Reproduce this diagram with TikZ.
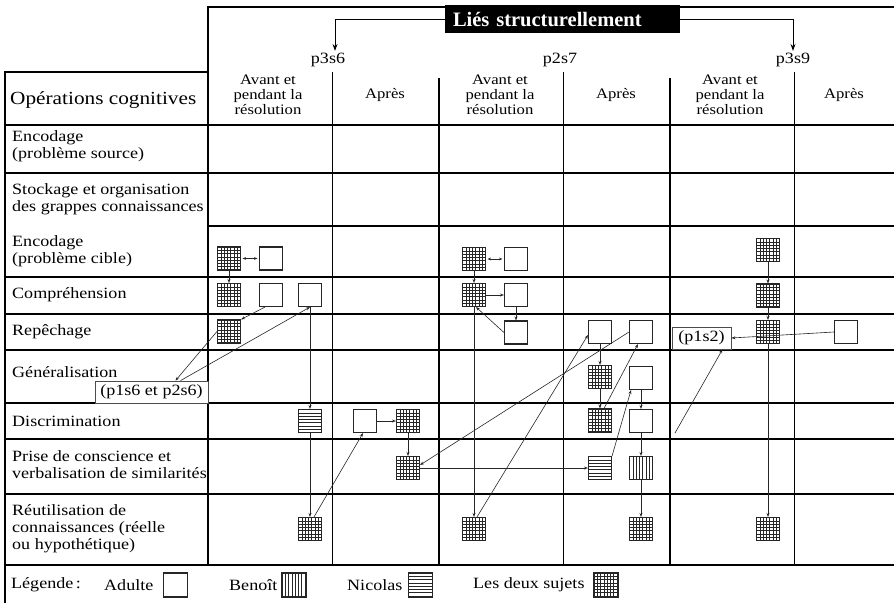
\documentclass[tikz,border=0pt]{standalone}
\usepackage{fontspec}
\setmainfont{Liberation Serif}[FakeStretch=1.15]
\newfontfamily\ttlfont{Liberation Serif}
\usetikzlibrary{arrows.meta}

\tikzset{
  sq/.style={draw=black!85, line width=1.1pt, minimum size=23pt, inner sep=0pt, fill=white},
  adult/.style={sq},
  gridsq/.style={sq, path picture={\foreach \k in {1,...,6}{
      \draw[line width=.55pt] ([xshift=\k*3.2857pt]path picture bounding box.north west) -- ([xshift=\k*3.2857pt]path picture bounding box.south west);
      \draw[line width=.55pt] ([yshift=-\k*3.2857pt]path picture bounding box.north west) -- ([yshift=-\k*3.2857pt]path picture bounding box.north east);}}},
  hstr/.style={sq, path picture={\foreach \k in {1,...,6}{
      \draw[line width=.5pt] ([yshift=-\k*3.2857pt]path picture bounding box.north west) -- ([yshift=-\k*3.2857pt]path picture bounding box.north east);}}},
  vstr/.style={sq, path picture={\foreach \k in {1,...,6}{
      \draw[line width=.5pt] ([xshift=\k*3.2857pt]path picture bounding box.north west) -- ([xshift=\k*3.2857pt]path picture bounding box.south west);}}},
  body/.style={font=\fontsize{15.7}{17}\selectfont},
  lab/.style={body, anchor=west, inner sep=0pt, align=left},
  hd/.style={font=\fontsize{14.5}{15}\selectfont, inner sep=0pt, align=center},
  pbox/.style={body, draw=black!70, line width=.8pt, inner sep=0pt, fill=white},
  conn/.style={line width=.6pt, draw=black!85, -{Stealth[length=4pt,width=3pt]}},
  dbl/.style={line width=.6pt, draw=black!85, {Stealth[length=3.5pt,width=2.8pt]}-{Stealth[length=3.5pt,width=2.8pt]}, shorten <=1.5pt, shorten >=1.5pt},
  tarrow/.style={line width=1pt, -{Stealth[length=7pt,width=5pt]}},
  frame/.style={line width=2.4pt},
  mainline/.style={line width=1.4pt},
  subline/.style={line width=1pt}
}

\begin{document}
\begin{tikzpicture}[x=1pt,y=-1pt]
\useasboundingbox (0,0) rectangle (894,603);

% frame
\draw[frame] (5,603) -- (5,72) -- (208,72) -- (208,7) -- (894,7);

% horizontal lines
\foreach \yy in {125,173,277,314,350,403,439,494,565}
  \draw[mainline] (5,\yy) -- (894,\yy);
\draw[mainline] (208,226) -- (894,226);

% vertical lines
\draw[mainline] (208,72) -- (208,565);
\draw[mainline] (439,78) -- (439,565);
\draw[mainline] (670,78) -- (670,565);
\foreach \xx in {332,563,794}
  \draw[subline] (\xx,72) -- (\xx,565);

% title
\node[fill=black, text=white, minimum height=28pt, inner ysep=0pt, inner xsep=8pt,
      text width=219pt, align=left,
      font=\ttlfont\fontsize{20.5}{22}\selectfont\bfseries] (title) at (562.5,19) {Liés structurellement};

% problem labels
\node[body, inner sep=0pt] (lp1) at (328,60) {p3s6};
\node[body, inner sep=0pt] (lp2) at (560,60) {p2s7};
\node[body, inner sep=0pt] (lp3) at (793,60) {p3s9};
\draw[tarrow] (title.west) -| ([xshift=7pt,yshift=2pt]lp1.north);
\draw[tarrow] (title.east) -| ([yshift=2pt]lp3.north);

% header
\node[lab, font=\fontsize{18.5}{20}\selectfont] (hop) at (10,100) {Opérations cognitives};
\node[hd] (h1) at (268,95) {Avant et\\pendant la\\résolution};
\node[hd] (h2) at (385,95) {Après};
\node[hd] (h3) at (500,95) {Avant et\\pendant la\\résolution};
\node[hd] (h4) at (616,95) {Après};
\node[hd] (h5) at (730,95) {Avant et\\pendant la\\résolution};
\node[hd] (h6) at (844,95) {Après};

% row labels
\node[lab] (l1) at (12,146.5) {Encodage\\(problème source)};
\node[lab] (l2) at (12,199.5) {Stockage et organisation\\des grappes connaissances};
\node[lab] (l3) at (12,251.5) {Encodage\\(problème cible)};
\node[lab] (l4) at (12,295) {Compréhension};
\node[lab] (l5) at (12,332) {Repêchage};
\node[lab] (l6) at (12,372) {Généralisation};
\node[lab] (l7) at (12,421) {Discrimination};
\node[lab] (l8) at (12,465) {Prise de conscience et\\verbalisation de similarités};
\node[lab] (l9) at (12,529) {Réutilisation de\\connaissances (réelle\\ou hypothétique)};

% boxes
\node[pbox, minimum width=113pt, minimum height=22pt] (box1) at (151.5,392) {(p1s6 et p2s6)};
\node[pbox, minimum width=59pt, minimum height=22pt] (box2) at (701.5,338) {(p1s2)};

% column p3s6 avant
\node[gridsq] (a1g) at (229,258.5) {};
\node[adult]  (a1a) at (271,258.5) {};
\node[gridsq] (b1g) at (229,295) {};
\node[adult]  (b1a) at (271,295) {};
\node[adult]  (b1b) at (310,295) {};
\node[gridsq] (r1g) at (229,331.5) {};
\node[hstr]   (d1n) at (310,421) {};
\node[gridsq] (u1g) at (310,529) {};
% column p3s6 apres
\node[adult]  (d2a) at (365,421) {};
\node[gridsq] (d2g) at (408,421) {};
\node[gridsq] (p2g) at (408,468) {};
% column p2s7 avant
\node[gridsq] (a3g) at (474,259) {};
\node[adult]  (a3a) at (516,259) {};
\node[gridsq] (b3g) at (474,295) {};
\node[adult]  (b3a) at (516,295) {};
\node[adult]  (r3a) at (516,332.5) {};
\node[gridsq] (u3g) at (474,529) {};
% column p2s7 apres
\node[adult]  (r4a) at (600,332) {};
\node[adult]  (r4b) at (641,332) {};
\node[gridsq] (g4g) at (600,377) {};
\node[adult]  (g4a) at (641,378) {};
\node[gridsq] (d4g) at (600,420.5) {};
\node[adult]  (d4a) at (641,421) {};
\node[hstr]   (p4n) at (600,468) {};
\node[vstr]   (p4b) at (641,468) {};
\node[gridsq] (u4g) at (641,529) {};
% column p3s9 avant
\node[gridsq] (a5g) at (768,250) {};
\node[gridsq] (b5g) at (768,295.5) {};
\node[gridsq] (r5g) at (768,332) {};
\node[gridsq] (u5g) at (768,529) {};
% column p3s9 apres
\node[adult]  (r6a) at (846,332) {};
\coordinate (f1) at (675,433);

% connectors
\draw[dbl] (a1g.east) -- (a1a.west);
\draw[conn] (a1g.south) -- (b1g.north);
\draw[conn] ([xshift=6pt]b1a.south west) -- (r1g.north east);
\draw[conn] (r1g.west) -- ([xshift=24pt]box1.north);
\draw[conn] ([xshift=29pt]box1.north) -- (b1b.south);
\draw[conn] (b1b.south) -- (d1n.north);
\draw[conn] (d1n.south) -- (u1g.north);
\draw[conn] ([xshift=4pt]u1g.north) -- ([xshift=-2pt]d2a.south);
\draw[conn] (d2a.east) -- (d2g.west);
\draw[conn] (d2g.south) -- (p2g.north);
\draw[conn] (r4b.west) -- ([yshift=3pt]p2g.east);
\draw[conn] (p2g.east) -- (p4n.west);
\draw[conn] (p4n.north east) -- ([xshift=-10pt]g4a.south);
\draw[conn] (r4a.south) -- (g4g.north);
\draw[conn] (g4g.south) -- (d4g.north);
\draw[conn] ([xshift=4pt]d4g.north) -- ([xshift=-3pt]r4b.south);
\draw[conn] (g4a.south) -- (d4a.north);
\draw[conn] (d4a.south) -- (p4b.north);
\draw[conn] (p4b.south) -- (u4g.north);
\draw[conn] ([xshift=3pt]u3g.north) -- ([yshift=-3pt]r4a.west);
\draw[conn] (b3g.south) -- (u3g.north);
\draw[dbl] (a3g.east) -- (a3a.west);
\draw[conn] (a3g.south) -- (b3g.north);
\draw[conn] (b3g.east) -- (b3a.west);
\draw[conn] (b3a.south) -- (r3a.north);
\draw[conn] (r3a.west) -- ([xshift=2pt]b3g.south);
\draw[conn] (a5g.south) -- (b5g.north);
\draw[conn] (b5g.south) -- (r5g.north);
\draw[conn] (r5g.south) -- (u5g.north);
\draw[conn] (r6a.west) -- (box2.east);
\draw[conn] (f1) -- ([xshift=21pt]box2.south);

% legend
\node[lab] (lg0) at (11,585) {Légende\,:};
\node[lab] (lg1) at (104,585) {Adulte};
\node[adult, minimum size=24pt] (lgs1) at (175.5,585) {};
\node[lab] (lg2) at (229,585) {Benoît};
\node[vstr, minimum size=24pt] (lgs2) at (294,585) {};
\node[lab] (lg3) at (347,585) {Nicolas};
\node[hstr, minimum size=24pt] (lgs3) at (420.5,585) {};
\node[lab] (lg4) at (473,585) {Les deux sujets};
\node[gridsq, minimum size=24pt] (lgs4) at (606,585) {};
\end{tikzpicture}
\end{document}
